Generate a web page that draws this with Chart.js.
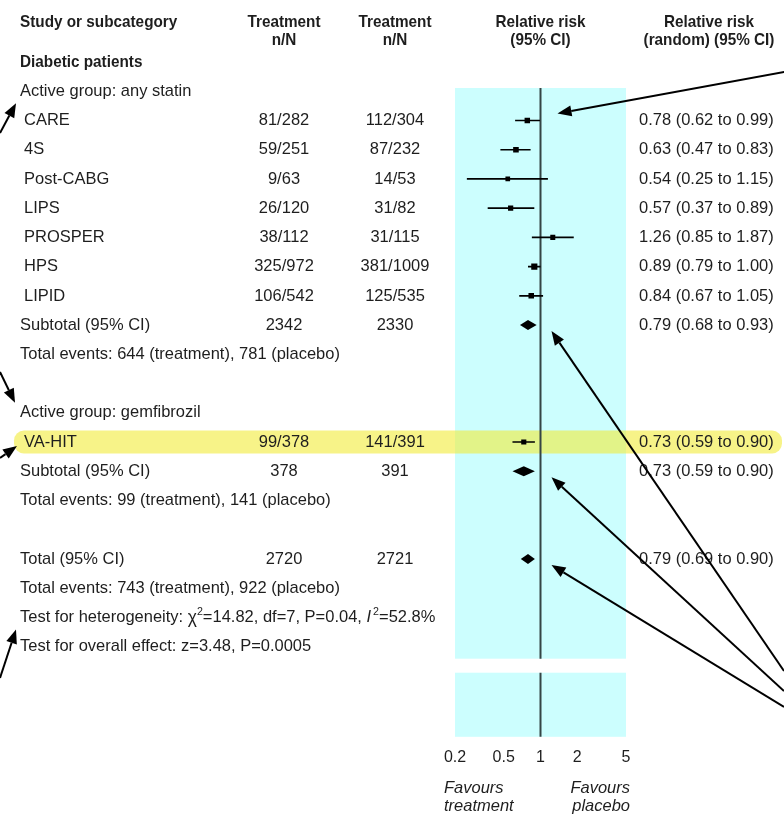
<!DOCTYPE html>
<html><head><meta charset="utf-8">
<script src="https://cdn.jsdelivr.net/npm/chart.js@4.4.1/dist/chart.umd.min.js"></script>
<style>html,body{margin:0;padding:0;background:#fff}#wrap{position:relative;width:784px;height:814px}</style>
</head><body><div id="wrap"><canvas id="forest" width="784" height="814"></canvas></div>
<script>
/* individual trials */
const studies=['CARE','4S','Post-CABG','LIPS','PROSPER','HPS','LIPID','VA-HIT'];
const studyRows=[2,3,4,5,6,7,8,13];
const treatN=['81/282','59/251','9/63','26/120','38/112','325/972','106/542','99/378'];
const controlN=['112/304','87/232','14/53','31/82','31/115','381/1009','125/535','141/391'];
const rr=[0.78,0.63,0.54,0.57,1.26,0.89,0.84,0.73];
const rrLo=[0.62,0.47,0.25,0.37,0.85,0.79,0.67,0.59];
const rrHi=[0.99,0.83,1.15,0.89,1.87,1.00,1.05,0.90];
const weights=[11,13,3,8,6,22,12,7];

/* pooled estimates */
const pooledLabels=['Subtotal (95% CI)','Subtotal (95% CI)','Total (95% CI)'];
const pooledRows=[9,14,17];
const pooledTreat=['2342','378','2720'];
const pooledControl=['2330','391','2721'];
const pooledRR=[0.79,0.73,0.79];
const pooledLo=[0.68,0.59,0.69];
const pooledHi=[0.93,0.90,0.90];

const xTicks=[0.2,0.5,1,2,5];

/* other text lines: [row, text, bold] */
const textLines=[
  [0,'Diabetic patients',true],
  [1,'Active group: any statin',false],
  [10,'Total events: 644 (treatment), 781 (placebo)',false],
  [12,'Active group: gemfibrozil',false],
  [15,'Total events: 99 (treatment), 141 (placebo)',false],
  [18,'Total events: 743 (treatment), 922 (placebo)',false],
  [20,'Test for overall effect: z=3.48, P=0.0005',false]
];

const fmt=(e,l,h)=>`${e.toFixed(2)} (${l.toFixed(2)} to ${h.toFixed(2)})`;

/* font: narrow if available, otherwise Liberation Sans */
const tmp=document.createElement('canvas').getContext('2d');
function hasFont(f){tmp.font='20px monospace';const a=tmp.measureText('abcdefghijklmW0.2').width;tmp.font=`20px "${f}", monospace`;return tmp.measureText('abcdefghijklmW0.2').width!==a;}
const NARROW=hasFont('Liberation Sans Narrow');
const FAM=NARROW?'"Liberation Sans Narrow"':'"Liberation Sans", Arial, sans-serif';
const SX=NARROW?1.19:0.97, SXB=NARROW?1.09:0.9;
const INK='#1e1e1e';

function txt(ctx,s,x,y,opt){
  opt=opt||{};
  ctx.save();
  ctx.font=`${opt.italic?'italic ':''}${opt.bold?'bold ':''}${opt.size||17}px ${FAM}`;
  ctx.fillStyle=INK;ctx.textBaseline='middle';ctx.textAlign=opt.align||'left';
  ctx.translate(x,y);ctx.scale(opt.bold?SXB:SX,1);ctx.fillText(s,0,0);
  ctx.restore();
}
function arrow(ctx,x1,y1,x2,y2){
  const a=Math.atan2(y2-y1,x2-x1),L=14,W=5.5;
  ctx.save();ctx.strokeStyle='#000';ctx.fillStyle='#000';ctx.lineWidth=2;
  const bx=x2-L*Math.cos(a),by=y2-L*Math.sin(a);
  ctx.beginPath();ctx.moveTo(x1,y1);ctx.lineTo(bx,by);ctx.stroke();
  ctx.beginPath();ctx.moveTo(x2,y2);
  ctx.lineTo(bx+W*Math.sin(a),by-W*Math.cos(a));
  ctx.lineTo(bx-W*Math.sin(a),by+W*Math.cos(a));
  ctx.closePath();ctx.fill();ctx.restore();
}

const GAP_TOP=20.41,GAP_BOT=20.89;

const backdrop={
  id:'backdrop',
  beforeDatasetsDraw(chart){
    const {ctx,chartArea:a,scales:{x,y}}=chart;
    const g1=y.getPixelForValue(GAP_TOP),g2=y.getPixelForValue(GAP_BOT);
    ctx.save();
    ctx.fillStyle='#ccfefe';
    ctx.fillRect(a.left,a.top,a.width,g1-a.top);
    ctx.fillRect(a.left,g2,a.width,a.bottom-g2);
    // highlighted VA-HIT row
    const hy=y.getPixelForValue(studyRows[7]);
    ctx.fillStyle='rgba(242,234,50,0.58)';
    ctx.beginPath();ctx.roundRect(14,hy-11.5,768,23,10);ctx.fill();
    // line of no effect
    const x1=x.getPixelForValue(1);
    ctx.strokeStyle='#354545';ctx.lineWidth=2;
    ctx.beginPath();ctx.moveTo(x1,a.top);ctx.lineTo(x1,g1);ctx.moveTo(x1,g2);ctx.lineTo(x1,a.bottom);ctx.stroke();
    ctx.restore();
  },
  afterDatasetsDraw(chart){
    const {ctx,scales:{x,y}}=chart;
    // pooled diamonds
    ctx.save();ctx.fillStyle='#000';
    pooledRR.forEach((e,i)=>{
      const py=y.getPixelForValue(pooledRows[i]);
      ctx.beginPath();
      ctx.moveTo(x.getPixelForValue(pooledLo[i]),py);
      ctx.lineTo(x.getPixelForValue(e),py-5);
      ctx.lineTo(x.getPixelForValue(pooledHi[i]),py);
      ctx.lineTo(x.getPixelForValue(e),py+5);
      ctx.closePath();ctx.fill();
    });
    ctx.restore();
  },
  afterDraw(chart){
    const {ctx,scales:{x,y}}=chart;
    const Y=r=>y.getPixelForValue(r);
    const c1=284,c2=395,cRR=x.getPixelForValue(1),cR=709,rx=639;
    // header
    txt(ctx,'Study or subcategory',20,22,{bold:true});
    txt(ctx,'Treatment',c1,22,{bold:true,align:'center'});txt(ctx,'n/N',c1,40,{bold:true,align:'center'});
    txt(ctx,'Treatment',c2,22,{bold:true,align:'center'});txt(ctx,'n/N',c2,40,{bold:true,align:'center'});
    txt(ctx,'Relative risk',cRR,22,{bold:true,align:'center'});txt(ctx,'(95% CI)',cRR,40,{bold:true,align:'center'});
    txt(ctx,'Relative risk',cR,22,{bold:true,align:'center'});txt(ctx,'(random) (95% CI)',cR,40,{bold:true,align:'center'});
    textLines.forEach(([r,s,b])=>txt(ctx,s,20,Y(r),{bold:b}));
    // heterogeneity line with chi and italic I
    (function(){
      const py=Y(19);
      let cx=20;
      const w=(s,f)=>{ctx.font=f;return ctx.measureText(s).width*SX;};
      const base=`17px ${FAM}`,sup=`11px ${FAM}`;
      txt(ctx,'Test for heterogeneity: ',cx,py);cx+=w('Test for heterogeneity: ',base);
      txt(ctx,'\u03c7',cx,py+1,{size:18});cx+=w('\u03c7',`18px ${FAM}`);
      txt(ctx,'2',cx,py-5,{size:11});cx+=w('2',sup);
      txt(ctx,'=14.82, df=7, P=0.04, ',cx,py);cx+=w('=14.82, df=7, P=0.04, ',base);
      txt(ctx,'I',cx,py,{italic:true});cx+=w('I',`italic 17px ${FAM}`)+2;
      txt(ctx,'2',cx,py-5,{size:11});cx+=w('2',sup);
      txt(ctx,'=52.8%',cx,py);
    })();
    studies.forEach((s,i)=>{
      const py=Y(studyRows[i]);
      txt(ctx,s,24,py);
      txt(ctx,treatN[i],c1,py,{align:'center'});
      txt(ctx,controlN[i],c2,py,{align:'center'});
      txt(ctx,fmt(rr[i],rrLo[i],rrHi[i]),rx,py);
    });
    pooledLabels.forEach((s,i)=>{
      const py=Y(pooledRows[i]);
      txt(ctx,s,20,py);
      txt(ctx,pooledTreat[i],c1,py,{align:'center'});
      txt(ctx,pooledControl[i],c2,py,{align:'center'});
      txt(ctx,fmt(pooledRR[i],pooledLo[i],pooledHi[i]),rx,py);
    });
    // axis captions
    txt(ctx,'Favours',444,788,{italic:true});txt(ctx,'treatment',444,806,{italic:true});
    txt(ctx,'Favours',630,788,{italic:true,align:'right'});txt(ctx,'placebo',630,806,{italic:true,align:'right'});
    // annotation arrows
    const xr=x.getPixelForValue(1);
    arrow(ctx,800,69,xr+17,Y(2)-7);
    pooledRows.forEach((r,i)=>arrow(ctx,784,[671,691,707][i],xr+11,Y(r)+6));
    arrow(ctx,0,133,16,Y(1)+12);
    arrow(ctx,0,372,15,Y(12)-10);
    arrow(ctx,0,458,17,Y(13)+4);
    arrow(ctx,0,678,16,Y(19)+12);
  }
};

/* whisker segments separated by gaps */
const whiskers=[];
rr.forEach((_,i)=>{whiskers.push({x:rrLo[i],y:studyRows[i]},{x:rrHi[i],y:studyRows[i]},{x:null,y:null});});

new Chart(document.getElementById('forest'),{
  type:'scatter',
  data:{datasets:[
    {label:'95% CI',data:whiskers,showLine:true,spanGaps:false,borderColor:'#000',borderWidth:1.6,pointRadius:0},
    {label:'Relative risk',data:rr.map((v,i)=>({x:v,y:studyRows[i]})),pointStyle:'rect',
     pointRadius:weights.map(w=>2.7+0.35*Math.sqrt(w)),backgroundColor:'#000',borderWidth:0}
  ]},
  plugins:[backdrop],
  options:{
    responsive:false,animation:false,events:[],
    layout:{padding:{left:455,right:158,top:88,bottom:36}},
    plugins:{legend:{display:false},tooltip:{enabled:false}},
    scales:{
      x:{type:'logarithmic',min:0.2,max:5,
        afterBuildTicks:s=>{s.ticks=xTicks.map(v=>({value:v}));},
        grid:{display:false,drawTicks:false},border:{display:false},
        ticks:{padding:11,color:INK,font:{size:16,family:'Liberation Sans'},callback:v=>String(v),maxRotation:0,autoSkip:false}},
      y:{type:'linear',min:0.8904,max:23.082,reverse:true,display:false}
    }
  }
});
</script></body></html>
